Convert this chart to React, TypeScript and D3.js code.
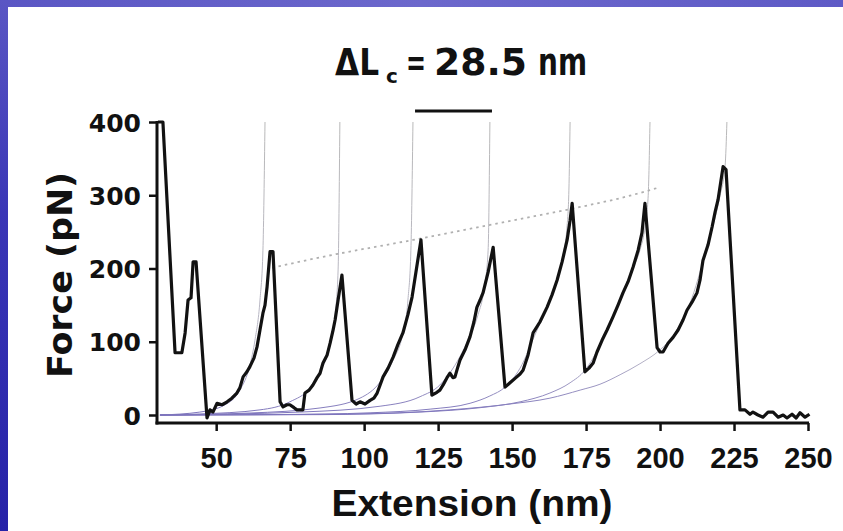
import React, { useEffect, useRef } from 'react';
import * as d3 from 'd3';

// axis ticks
const xTicks = [50, 75, 100, 125, 150, 175, 200, 225, 250];
const yTicks = [0, 100, 200, 300, 400];

// measured force trace: [extension (nm), force (pN)]
const trace: [number, number][] = [
  [30.3, 400], [32.0, 400], [36.1, 85], [38.4, 85], [39.5, 112], [40.5, 157], [41.5, 160], [42.2, 209], [43.2, 209], [46.9, -4],
  [47.9, 7], [48.9, 4], [50.3, 16], [52.0, 14], [53.7, 18], [55.3, 23], [57.0, 30], [58.0, 37], [59.1, 52], [60.4, 59],
  [61.4, 66], [62.8, 78], [63.8, 93], [64.8, 116], [65.8, 139], [66.5, 150], [67.2, 175], [68.2, 223], [69.2, 223],
  [71.6, 18], [72.6, 11], [73.9, 14], [74.9, 14], [76.3, 10], [77.3, 7], [79.3, 7], [80.0, 30], [81.4, 34], [82.7, 41],
  [84.1, 51], [85.1, 57], [86.1, 71], [87.5, 82], [88.5, 98], [89.5, 116], [90.2, 130], [91.2, 157], [92.5, 191],
  [95.9, 20], [97.3, 15], [98.6, 18], [100.3, 15], [102.0, 20], [103.3, 23], [104.4, 30], [105.4, 41], [106.4, 52],
  [108.1, 64], [109.8, 79], [111.4, 96], [113.1, 112], [114.8, 137], [116.2, 161], [117.5, 195], [119.2, 239],
  [122.9, 27], [124.6, 31], [125.6, 34], [126.7, 41], [128.0, 51], [129.0, 57], [130.0, 51], [130.7, 52], [131.7, 66],
  [132.4, 75], [134.1, 89], [135.8, 107], [137.1, 127], [138.1, 147], [139.2, 157], [140.2, 167], [141.9, 195], [143.6, 229],
  [147.6, 38], [149.3, 44], [151.3, 51], [152.7, 56], [153.7, 61], [155.4, 82], [157.1, 112], [159.4, 127], [161.8, 147],
  [163.5, 164], [165.2, 184], [166.9, 209], [168.6, 239], [169.6, 266], [170.3, 289],
  [174.6, 59], [176.0, 64], [177.4, 71], [178.7, 86], [180.4, 102], [182.1, 116], [184.1, 134], [185.8, 150], [187.5, 167],
  [189.2, 182], [190.9, 202], [192.6, 225], [193.9, 249], [194.9, 289],
  [199.0, 92], [200.0, 86], [201.0, 86], [202.7, 98], [204.4, 106], [206.1, 116], [207.8, 130], [209.1, 143], [210.8, 154],
  [212.5, 167], [213.5, 184], [214.5, 211], [216.2, 232], [217.6, 257], [218.6, 277], [219.6, 294], [221.3, 339], [222.3, 335],
  [227.0, 7], [228.7, 7], [230.4, 1], [231.4, 4], [233.1, 0], [234.8, -3], [236.5, 4], [238.2, 4], [239.9, -3], [241.6, 0],
  [242.9, -4], [244.6, 1], [246.0, -4], [247.3, 3], [249.0, -3], [250.5, 1],
];

// worm-like-chain fits
const fit1: [number, number][] = [[31, 0], [44.5, 4], [53, 14], [58, 34], [61.4, 68], [63.1, 102], [64.8, 157], [65.8, 225], [66.5, 400]];
const fit2: [number, number][] = [[31, 0], [44.5, 1.4], [64.8, 7], [74.9, 18], [81.7, 37], [85.1, 59], [88.5, 96], [90.2, 137], [91.2, 198], [91.8, 400]];
const fit3: [number, number][] = [[31, 0], [61.4, 2.7], [85.1, 9.6], [98.6, 23], [105.4, 45], [109.8, 75], [113.1, 112], [114.8, 157], [115.8, 225], [116.5, 400]];
const fit4: [number, number][] = [[31, 0], [78.3, 4], [105.4, 12], [118.9, 25], [125.6, 41], [130.7, 68], [135.1, 102], [138.5, 137], [140.5, 171], [141.9, 225], [142.5, 400]];
const fit5: [number, number][] = [[31, 0], [71.6, 0.5], [102, 3], [122.3, 8], [135.8, 16], [142.5, 26], [147.6, 38], [152.7, 64], [157.7, 109], [161.1, 141], [164.5, 175], [167.2, 218], [168.6, 259], [169.2, 307], [169.6, 400]];
const fit6: [number, number][] = [[31, 0], [85.1, 0.5], [118.9, 4], [139.2, 10], [152.7, 18], [162.8, 30], [169.6, 44], [174.6, 61], [177.4, 78], [180.4, 102], [184.1, 134], [187.5, 167], [190.9, 201], [193.2, 225], [195, 259], [196, 300], [196.6, 400]];
const fit7: [number, number][] = [[31, 0], [95.2, 1.4], [129, 7], [149.3, 15], [162.8, 23], [173, 34], [179.7, 42], [186.5, 55], [193.2, 70], [200, 89], [204.4, 108], [207.8, 132], [210.8, 160], [213.5, 195], [215.8, 228], [218.2, 263], [220.3, 300], [222, 341], [222.6, 400]];
const fits = [fit1, fit2, fit3, fit4, fit5, fit6, fit7];

// dotted trend through the unfolding peaks
const peakTrend: [number, number][] = [[68.9, 201], [86.1, 216], [116.5, 239], [139.2, 257], [173.0, 284], [186.5, 296], [200.0, 311]];

// scale bar for the contour length increment
const deltaLcBar = [117.2, 143.2];
const deltaLcLevel = 415;

const App = () => {
  const ref = useRef<SVGSVGElement | null>(null);

  useEffect(() => {
    const width = 843;
    const height = 531;
    const svg = d3.select(ref.current);
    svg.selectAll('*').remove();

    const x = d3.scaleLinear().domain([30, 250]).range([157, 808]);
    const y = d3.scaleLinear().domain([0, 400]).range([415, 122]);

    const defs = svg.append('defs');
    const top = defs.append('linearGradient').attr('id', 'topBand').attr('x1', 0).attr('x2', 1).attr('y1', 0).attr('y2', 0);
    top.append('stop').attr('offset', '0%').attr('stop-color', '#5a56c4');
    top.append('stop').attr('offset', '50%').attr('stop-color', '#6c68cc');
    top.append('stop').attr('offset', '100%').attr('stop-color', '#5e5ac6');
    const left = defs.append('linearGradient').attr('id', 'leftBand').attr('x1', 0).attr('x2', 0).attr('y1', 0).attr('y2', 1);
    left.append('stop').attr('offset', '0%').attr('stop-color', '#5a56c4');
    left.append('stop').attr('offset', '40%').attr('stop-color', '#3a36b6');
    left.append('stop').attr('offset', '100%').attr('stop-color', '#2622a8');
    const fitGrad = defs.append('linearGradient').attr('id', 'fitGrad')
      .attr('gradientUnits', 'userSpaceOnUse').attr('x1', 0).attr('x2', 0).attr('y1', y(400)).attr('y2', y(0));
    fitGrad.append('stop').attr('offset', '0%').attr('stop-color', '#b8b8b8');
    fitGrad.append('stop').attr('offset', '80%').attr('stop-color', '#b8b6c6');
    fitGrad.append('stop').attr('offset', '100%').attr('stop-color', '#7d74bc');

    // page
    svg.append('rect').attr('width', width).attr('height', height).attr('fill', '#ffffff');
    svg.append('rect').attr('width', width).attr('height', 7).attr('fill', 'url(#topBand)');
    svg.append('rect').attr('width', 8).attr('height', height).attr('fill', 'url(#leftBand)');

    const line = d3.line<[number, number]>().x(d => x(d[0])).y(d => y(d[1]));
    const smooth = d3.line<[number, number]>().x(d => x(d[0])).y(d => y(d[1])).curve(d3.curveMonotoneX);

    // fits
    svg.append('g').selectAll('path').data(fits).enter().append('path')
      .attr('d', d => smooth(d))
      .attr('fill', 'none')
      .attr('stroke', 'url(#fitGrad)')
      .attr('stroke-width', 1);

    // peak trend
    svg.append('path')
      .attr('d', smooth(peakTrend))
      .attr('fill', 'none')
      .attr('stroke', '#b0b0b0')
      .attr('stroke-width', 1.8)
      .attr('stroke-dasharray', '2.5 4');

    // trace
    svg.append('path')
      .attr('d', line(trace))
      .attr('fill', 'none')
      .attr('stroke', '#121212')
      .attr('stroke-width', 3.2)
      .attr('stroke-linejoin', 'round');

    // axes
    const axisY = 423;
    svg.append('line').attr('x1', x(30)).attr('x2', x(30)).attr('y1', y(400) - 1).attr('y2', axisY + 1.5)
      .attr('stroke', '#111').attr('stroke-width', 3);
    svg.append('line').attr('x1', x(30) - 1.5).attr('x2', x(250) + 1).attr('y1', axisY).attr('y2', axisY)
      .attr('stroke', '#111').attr('stroke-width', 3);

    const gy = svg.append('g').attr('transform', `translate(${x(30)},0)`)
      .call(d3.axisLeft(y).tickValues(yTicks).tickSize(8).tickPadding(8));
    gy.select('.domain').remove();
    gy.selectAll('line').attr('stroke', '#111').attr('stroke-width', 2.5);
    gy.selectAll('text')
      .attr('dy', '0.36em')
      .style('font-family', '"DejaVu Sans", sans-serif')
      .style('font-weight', 'bold')
      .style('font-size', '25px')
      .attr('fill', '#111');

    const gx = svg.append('g').attr('transform', `translate(0,${axisY})`)
      .call(d3.axisBottom(x).tickValues(xTicks).tickSize(8));
    gx.select('.domain').remove();
    gx.selectAll('line').attr('stroke', '#111').attr('stroke-width', 2.5);
    gx.selectAll('text')
      .attr('y', 45)
      .attr('dy', 0)
      .style('font-family', '"Liberation Sans", Arial, sans-serif')
      .style('font-weight', 'bold')
      .style('font-size', '29px')
      .attr('fill', '#111');

    // axis titles
    svg.append('text')
      .attr('x', 472)
      .attr('y', 516)
      .attr('text-anchor', 'middle')
      .attr('textLength', 281)
      .attr('lengthAdjust', 'spacingAndGlyphs')
      .style('font-family', '"Liberation Sans", Arial, sans-serif')
      .style('font-weight', 'bold')
      .style('font-size', '37px')
      .attr('fill', '#111')
      .text('Extension (nm)');

    svg.append('text')
      .attr('transform', 'translate(72,275) rotate(-90)')
      .attr('text-anchor', 'middle')
      .attr('textLength', 206)
      .attr('lengthAdjust', 'spacingAndGlyphs')
      .style('font-family', '"DejaVu Sans", sans-serif')
      .style('font-weight', 'bold')
      .style('font-size', '34px')
      .attr('fill', '#111')
      .text('Force (pN)');

    // title with the contour length increment
    const title = svg.append('text')
      .style('font-family', '"DejaVu Sans", sans-serif')
      .style('font-weight', 'bold')
      .style('font-size', '37px')
      .attr('fill', '#111');
    title.append('tspan').attr('x', 335).attr('y', 75).attr('textLength', 44).attr('lengthAdjust', 'spacingAndGlyphs').text('ΔL');
    title.append('tspan').attr('x', 386).attr('y', 83).style('font-size', '20px').text('c');
    title.append('tspan').attr('x', 406).attr('y', 75).attr('textLength', 20).attr('lengthAdjust', 'spacingAndGlyphs').text('=');
    title.append('tspan').attr('x', 434).attr('y', 75).attr('textLength', 93).attr('lengthAdjust', 'spacingAndGlyphs').text('28.5');
    title.append('tspan').attr('x', 538).attr('y', 75).attr('textLength', 49).attr('lengthAdjust', 'spacingAndGlyphs').text('nm');

    svg.append('line')
      .attr('x1', x(deltaLcBar[0])).attr('x2', x(deltaLcBar[1]))
      .attr('y1', y(deltaLcLevel)).attr('y2', y(deltaLcLevel))
      .attr('stroke', '#111').attr('stroke-width', 3);
  }, []);

  return (
    <svg
      ref={ref}
      width={843}
      height={531}
      style={{ position: 'absolute', left: 0, top: 0, display: 'block' }}
    />
  );
};

export default App;
